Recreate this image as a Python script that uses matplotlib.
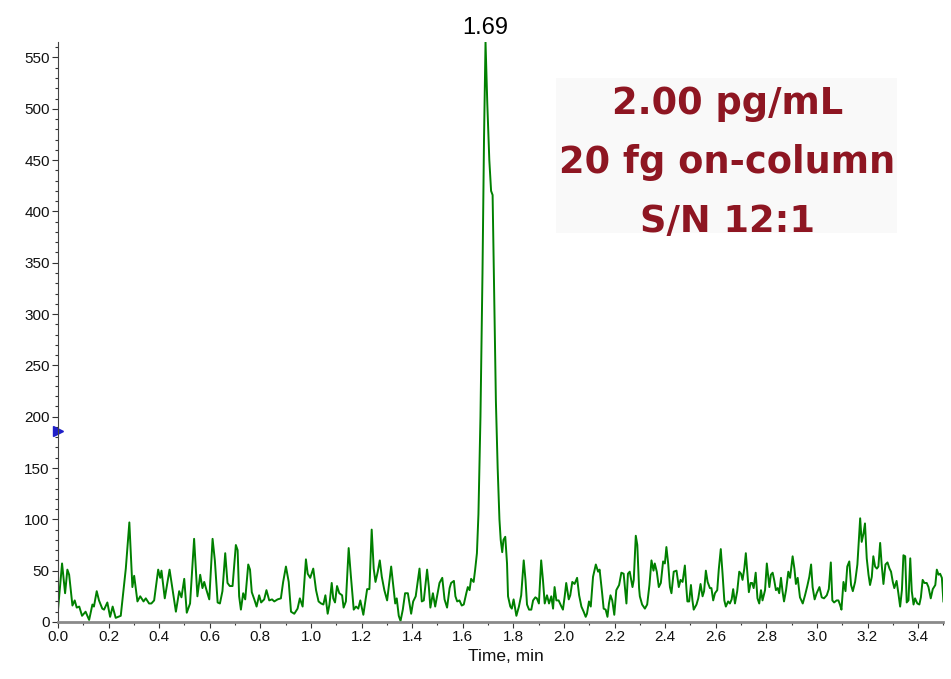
import numpy as np
import matplotlib.pyplot as plt
from matplotlib.ticker import MultipleLocator
from matplotlib.patches import Rectangle

plt.rcParams['font.family'] = ['Liberation Sans', 'DejaVu Sans']

# baseline before the peak (time in min, intensity)
base1_t = [0.000, 0.016, 0.028, 0.037, 0.044, 0.057, 0.066, 0.074, 0.084, 0.095,
           0.109, 0.123, 0.136, 0.142, 0.153, 0.162, 0.175, 0.182, 0.195, 0.206,
           0.216, 0.228, 0.248, 0.268, 0.282, 0.294, 0.301, 0.314, 0.325, 0.338,
           0.347, 0.360, 0.369, 0.380, 0.396, 0.404, 0.409, 0.422, 0.441, 0.453,
           0.466, 0.479, 0.488, 0.499, 0.509, 0.522, 0.538, 0.551, 0.562, 0.571,
           0.578]
base1_y = [12, 57, 28, 51, 46, 16, 21, 14, 15, 6,
           10, 2, 17, 15, 30, 21, 13, 12, 19, 5,
           15, 4, 6, 52, 97, 34, 45, 20, 25, 20,
           23, 18, 18, 21, 51, 43, 50, 23, 51, 31,
           10, 30, 24, 42, 9, 18, 81, 25, 46, 33,
           39]

base2_t = [0.587, 0.598, 0.611, 0.620, 0.631, 0.640, 0.650, 0.661, 0.670, 0.679,
           0.690, 0.703, 0.710, 0.716, 0.723, 0.732, 0.740, 0.752, 0.759, 0.766,
           0.776, 0.785, 0.795, 0.803, 0.815, 0.824, 0.835, 0.846, 0.855, 0.868,
           0.881, 0.890, 0.901, 0.912, 0.921, 0.934, 0.947, 0.956, 0.967, 0.980,
           0.987, 0.997, 1.009, 1.020, 1.030, 1.040, 1.049, 1.057, 1.066, 1.073,
           1.082, 1.088, 1.095, 1.103, 1.112, 1.123, 1.129, 1.138, 1.149]
base2_y = [31, 22, 81, 60, 19, 18, 30, 67, 38, 35,
           35, 75, 70, 25, 12, 28, 22, 56, 51, 29,
           22, 15, 26, 19, 22, 31, 21, 22, 20, 22,
           23, 39, 54, 39, 10, 8, 13, 23, 15, 61,
           47, 43, 52, 31, 20, 18, 17, 26, 8, 17,
           38, 23, 19, 35, 28, 26, 14, 20, 72]

base3_t = [1.158, 1.169, 1.178, 1.187, 1.195, 1.207, 1.222, 1.231, 1.240, 1.248,
           1.255, 1.264, 1.272, 1.280, 1.290, 1.301, 1.317, 1.326, 1.333, 1.339,
           1.347, 1.354, 1.363, 1.372, 1.383, 1.396, 1.404, 1.414, 1.429, 1.438,
           1.446, 1.459, 1.466, 1.472, 1.482, 1.491, 1.499, 1.508, 1.519, 1.528,
           1.538, 1.548, 1.554, 1.565, 1.571, 1.578, 1.587, 1.596, 1.604, 1.614,
           1.620, 1.627, 1.633, 1.643, 1.649, 1.656]
base3_y = [44, 12, 15, 13, 21, 7, 32, 32, 90, 52,
           39, 49, 60, 44, 31, 21, 54, 34, 18, 23,
           6, 1, 12, 28, 28, 8, 20, 25, 52, 20,
           21, 51, 34, 14, 28, 15, 26, 38, 43, 22,
           14, 33, 38, 40, 25, 20, 21, 16, 17, 28,
           34, 31, 42, 39, 51, 67]

# the analyte peak
peak_t = [1.662, 1.670, 1.678, 1.684, 1.690, 1.697, 1.705, 1.712, 1.718,
          1.724, 1.731, 1.738, 1.745]
peak_y = [105, 200, 340, 470, 565, 505, 450, 420, 416,
          320, 215, 150, 100]

# baseline after the peak
base4_t = [1.750, 1.756, 1.761, 1.768, 1.775, 1.779, 1.788, 1.794, 1.801, 1.812,
           1.822, 1.831, 1.841, 1.848, 1.854, 1.862, 1.871, 1.878, 1.887, 1.893,
           1.901, 1.910, 1.917, 1.924, 1.933, 1.941, 1.950, 1.957, 1.963, 1.970,
           1.979, 1.990, 1.996, 2.003, 2.009, 2.019, 2.025, 2.033, 2.042, 2.052,
           2.060, 2.069, 2.078, 2.086, 2.091, 2.099, 2.106, 2.115, 2.126, 2.135,
           2.141, 2.151, 2.157, 2.165, 2.172, 2.178, 2.184, 2.191, 2.199, 2.207,
           2.218, 2.227, 2.236, 2.247, 2.253, 2.260, 2.271, 2.276, 2.284, 2.290,
           2.297]
base4_y = [80, 68, 80, 83, 57, 25, 15, 13, 22, 6,
           15, 26, 60, 41, 17, 12, 12, 21, 24, 23,
           18, 60, 41, 18, 26, 18, 25, 13, 34, 21,
           21, 15, 12, 25, 38, 22, 26, 39, 37, 43,
           26, 15, 10, 5, 8, 20, 15, 44, 56, 49,
           51, 28, 13, 12, 5, 18, 26, 21, 7, 31,
           36, 48, 47, 18, 47, 49, 34, 41, 84, 75,
           33]

base5_t = [2.300, 2.309, 2.320, 2.329, 2.338, 2.346, 2.354, 2.359, 2.367, 2.375,
           2.383, 2.392, 2.399, 2.405, 2.412, 2.419, 2.425, 2.434, 2.445, 2.454,
           2.461, 2.469, 2.478, 2.484, 2.488, 2.495, 2.502, 2.508, 2.513, 2.524,
           2.531, 2.540, 2.548, 2.554, 2.561, 2.568, 2.577, 2.583, 2.590, 2.597,
           2.606, 2.612, 2.620, 2.627, 2.634, 2.640, 2.649, 2.656, 2.663, 2.669,
           2.676, 2.685, 2.693, 2.700, 2.706, 2.713, 2.719, 2.726, 2.731, 2.738,
           2.744, 2.750, 2.758, 2.765, 2.772, 2.779, 2.785, 2.795, 2.802, 2.812,
           2.818, 2.825, 2.831, 2.838, 2.845, 2.851, 2.858, 2.864]
base5_y = [25, 17, 13, 17, 36, 60, 50, 57, 49, 34,
           38, 59, 57, 73, 57, 34, 28, 49, 50, 34,
           41, 39, 55, 33, 20, 20, 36, 21, 12, 17,
           23, 37, 25, 30, 50, 39, 33, 33, 21, 28,
           31, 51, 71, 47, 21, 15, 20, 18, 22, 32,
           18, 30, 49, 47, 41, 52, 67, 44, 29, 38,
           38, 33, 48, 23, 18, 31, 21, 31, 57, 34,
           46, 48, 41, 31, 33, 28, 43, 30]

base6_t = [2.870, 2.878, 2.887, 2.894, 2.904, 2.911, 2.917, 2.924, 2.933, 2.944,
           2.953, 2.962, 2.970, 2.977, 2.983, 2.991, 2.999, 3.010, 3.019, 3.028,
           3.039, 3.047, 3.055, 3.061, 3.068, 3.078, 3.085, 3.091, 3.097, 3.105,
           3.113, 3.120, 3.128, 3.135, 3.142, 3.151, 3.160, 3.165, 3.171, 3.177,
           3.184, 3.190, 3.197, 3.204, 3.210, 3.217, 3.223, 3.230, 3.237, 3.243,
           3.250, 3.256, 3.263, 3.271, 3.279, 3.287, 3.293, 3.300, 3.306, 3.315,
           3.322, 3.329, 3.336, 3.342, 3.349, 3.355, 3.362, 3.369, 3.375, 3.382,
           3.388, 3.397, 3.405, 3.411, 3.418, 3.425, 3.434, 3.441, 3.450, 3.458,
           3.468, 3.474, 3.481, 3.487, 3.494, 3.500]
base6_y = [20, 31, 49, 43, 64, 52, 37, 43, 24, 18,
           26, 35, 44, 56, 34, 22, 28, 34, 24, 23,
           26, 32, 58, 21, 19, 21, 21, 17, 12, 39,
           30, 54, 59, 36, 30, 39, 56, 77, 101, 78,
           86, 96, 62, 46, 36, 44, 64, 54, 52, 54,
           77, 56, 37, 56, 58, 52, 49, 39, 33, 40,
           28, 15, 31, 65, 64, 19, 21, 62, 30, 17,
           23, 18, 17, 24, 41, 38, 38, 34, 23, 32,
           36, 51, 46, 47, 43, 20]

peak_label = '1.69'
peak_rt = 1.69
marker_level = 186
info_lines = ['2.00 pg/mL', '20 fg on-column', 'S/N 12:1']

t = np.concatenate([base1_t, base2_t, base3_t, peak_t, base4_t, base5_t, base6_t])
y = np.concatenate([base1_y, base2_y, base3_y, peak_y, base4_y, base5_y, base6_y])

fig = plt.figure(figsize=(9.51, 6.79), dpi=100)
ax = fig.add_axes([0.061, 0.084, 0.931, 0.854])

ax.plot(t, y, color='#008000', lw=1.4)

ax.set_xlim(0, 3.5)
ax.set_ylim(0, 565)
ax.xaxis.set_major_locator(MultipleLocator(0.2))
ax.xaxis.set_minor_locator(MultipleLocator(0.1))
ax.yaxis.set_major_locator(MultipleLocator(50))
ax.yaxis.set_minor_locator(MultipleLocator(10))
ax.xaxis.set_major_formatter(plt.FormatStrFormatter('%.1f'))

for s in ['top', 'right']:
    ax.spines[s].set_visible(False)
ax.spines['bottom'].set_color('#8a8a8a')
ax.spines['bottom'].set_linewidth(2)
ax.spines['left'].set_color('#444444')
ax.spines['left'].set_linewidth(0.8)

ax.tick_params(axis='both', which='major', labelsize=11, length=4, width=0.8,
               color='#333333', labelcolor='#111111', pad=2)
ax.tick_params(axis='both', which='minor', length=2, width=0.8, color='#333333')

ax.set_xlabel('Time, min', fontsize=12.5, color='#111111')
ax.xaxis.set_label_coords(0.506, -0.047)

# retention time label above the peak
ax.annotate(peak_label, xy=(peak_rt, 565), xytext=(0, 2), textcoords='offset points',
            ha='center', va='bottom', fontsize=17, annotation_clip=False)

# blue marker on the y axis
ax.plot([0], [marker_level], marker='>', color='#1f1fc8', ms=7, clip_on=False)

# info box
fig.patches.append(Rectangle((0.585, 0.657), 0.358, 0.228, transform=fig.transFigure,
                             facecolor='#f9f9f9', edgecolor='none', zorder=0))
for i, line in enumerate(info_lines):
    fig.text(0.765, 0.848 - i * 0.087, line, ha='center', va='center',
             fontsize=26.5, fontweight='bold', color='#8e1622', family='DejaVu Sans')

fig.savefig('out.png', dpi=100)
